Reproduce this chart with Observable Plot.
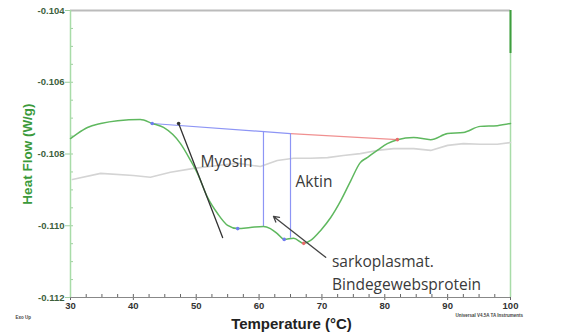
<!DOCTYPE html>
<html>
<head>
<meta charset="utf-8">
<script src="https://cdn.jsdelivr.net/npm/d3@7"></script>
<script src="https://cdn.jsdelivr.net/npm/@observablehq/plot@0.6"></script>
<style>
  html, body { margin: 0; padding: 0; background: #fff; }
  #chart svg { display: block; }
</style>
</head>
<body>
<div id="chart"></div>
<script>
// Heat flow curve (green)
const heatT = [30, 31.1, 32.7, 34.8, 37.5, 41.1, 43.0, 44.8, 47.5, 49.1, 50.2, 51.8, 53.4, 55.0, 56.6, 58.6, 60.7, 61.8, 62.9, 64.0, 65.5, 67.1, 68.2, 69.8, 71.4, 73.0, 74.6, 76.1, 77.2, 78.8, 80.4, 82.0, 84.6, 87.3, 90.0, 92.5, 95.2, 97.9, 100];
const heatV = [-0.10757, -0.10743, -0.10726, -0.10715, -0.10707, -0.10704, -0.10715, -0.10726, -0.10771, -0.10818, -0.10854, -0.10921, -0.10966, -0.10999, -0.11008, -0.11005, -0.11002, -0.11008, -0.11022, -0.11038, -0.11035, -0.11049, -0.11041, -0.11013, -0.10977, -0.10930, -0.10874, -0.10824, -0.10810, -0.10790, -0.10771, -0.10760, -0.10754, -0.10760, -0.10743, -0.10740, -0.10723, -0.10721, -0.10715];
// Reference curve (gray)
const refT = [30.3, 34.8, 40.0, 42.7, 45.9, 49.6, 53.4, 56.6, 60.2, 62.9, 65.5, 68.2, 70.9, 73.4, 76.1, 78.8, 81.4, 84.6, 87.3, 90.0, 92.5, 95.2, 97.9, 100];
const refV = [-0.10871, -0.10854, -0.10860, -0.10865, -0.10851, -0.10840, -0.10832, -0.10826, -0.10835, -0.10818, -0.10812, -0.10812, -0.10810, -0.10804, -0.10799, -0.10790, -0.10785, -0.10785, -0.10790, -0.10776, -0.10771, -0.10773, -0.10773, -0.10768];
// Baselines
const blueT = [43.0, 65.0];
const blueV = [-0.10715, -0.10743];
const redT = [65.0, 82.0];
const redV = [-0.10743, -0.10760];
const tangentT = [47.2, 54.2];
const tangentV = [-0.10715, -0.11033];
// Partition verticals
const splitT = [60.7, 65.0];
const splitTop = [-0.10737, -0.10743];
const splitBottom = [-0.11002, -0.11035];
// Markers on curve
const markT = [43.0, 56.6, 64.0, 67.1, 82.0, 47.2];
const markV = [-0.10715, -0.11008, -0.11038, -0.11049, -0.10760, -0.10715];
const markC = ["blue", "blue", "blue", "red", "red", "black"];
// Annotations
const labelNames = ["Myosin", "Aktin", "sarkoplasmat.", "Bindegewebsprotein"];
const labelT = [50.7, 65.8, 71.6, 71.6];
const labelV = [-0.10821, -0.10877, -0.11102, -0.11166];
const arrowFrom = [70.6, -0.11088];
const arrowTo = [62.3, -0.10974];
// Axis ticks
const yTicks = [-0.112, -0.110, -0.108, -0.106, -0.104];
const xTicks = [30, 40, 50, 60, 70, 80, 90, 100];
const yMinor = d3.range(-0.112, -0.10399, 0.0005);
const xMinor = d3.range(30, 100.01, 2.5);

const heat = heatT.map((t, i) => ({t, v: heatV[i]}));
const ref = refT.map((t, i) => ({t, v: refV[i]}));
const blue = blueT.map((t, i) => ({t, v: blueV[i]}));
const red = redT.map((t, i) => ({t, v: redV[i]}));
const tangent = tangentT.map((t, i) => ({t, v: tangentV[i]}));
const splits = splitT.map((t, i) => ({t, y1: splitTop[i], y2: splitBottom[i]}));
const marks = markT.map((t, i) => ({t, v: markV[i], c: markC[i]}));
const labels = labelNames.map((n, i) => ({n, t: labelT[i], v: labelV[i]}));
const colorMap = {blue: "#6f7cf0", red: "#e86a6a", black: "#333"};

const chart = Plot.plot({
  width: 562,
  height: 334,
  marginLeft: 70,
  marginRight: 52,
  marginTop: 10,
  marginBottom: 37,
  style: {fontFamily: "'Liberation Sans', Arial, sans-serif", background: "#fff"},
  x: {type: "linear", domain: [30, 100]},
  y: {type: "linear", domain: [-0.112, -0.104]},
  marks: [
    // minor ticks
    Plot.axisY({ticks: yMinor, tickSize: -3, stroke: "#9fcf9f", text: null, label: null}),
    Plot.axisX({ticks: xMinor, tickSize: -3, stroke: "#666", text: null, label: null}),
    // major axes
    Plot.axisY({ticks: yTicks, tickFormat: d => d.toFixed(3), tickSize: 5, tickPadding: 1, stroke: "#9fcf9f",
      fill: "#3d5f3d", fontSize: 9.5, fontWeight: "bold", label: null}),
    Plot.axisX({ticks: xTicks, tickFormat: d => String(d), tickSize: 3, tickPadding: 2, stroke: "#666",
      fill: "#333", fontSize: 9.5, fontWeight: "bold", label: null}),
    // frame lines
    Plot.ruleY([-0.104], {stroke: "#bbb", strokeWidth: 2}),
    Plot.ruleY([-0.112], {stroke: "#888", strokeWidth: 1}),
    Plot.ruleX([30], {stroke: "#a8dca8", strokeWidth: 1.5}),
    Plot.ruleX([100], {stroke: "#a8dca8", strokeWidth: 1.5}),
    Plot.ruleX([100], {y1: -0.104, y2: -0.1052, stroke: "#3e9e3e", strokeWidth: 2}),
    // curves
    Plot.line(ref, {x: "t", y: "v", stroke: "#d4d4d4", strokeWidth: 1.6}),
    Plot.line(blue, {x: "t", y: "v", stroke: "#8d95f5", strokeWidth: 1.2}),
    Plot.line(red, {x: "t", y: "v", stroke: "#f09090", strokeWidth: 1.2}),
    Plot.ruleX(splits, {x: "t", y1: "y1", y2: "y2", stroke: "#8d95f5", strokeWidth: 1.2}),
    Plot.line(heat, {x: "t", y: "v", stroke: "#5fb85f", strokeWidth: 1.5, curve: "monotone-x"}),
    Plot.line(tangent, {x: "t", y: "v", stroke: "#333", strokeWidth: 1.3}),
    Plot.dot(marks, {x: "t", y: "v", r: 1.8, fill: d => colorMap[d.c], stroke: "none"}),
    // arrow
    Plot.arrow([0], {x1: () => arrowFrom[0], y1: () => arrowFrom[1], x2: () => arrowTo[0], y2: () => arrowTo[1],
      stroke: "#444", strokeWidth: 1.3, headLength: 7}),
    // annotations
    Plot.text(labels, {x: "t", y: "v", text: "n", textAnchor: "start", fontSize: 15.5,
      fontFamily: "'Open Sans', sans-serif", fill: "#3a3a3a", style: "letter-spacing:0.4px"}),
    // axis titles
    Plot.text(["Heat Flow (W/g)"], {frameAnchor: "left", textAnchor: "middle", dx: -43, dy: 0, rotate: -90,
      fontSize: 13.5, fontWeight: "bold", fill: "#3b9a3b"}),
    Plot.text(["Temperature (°C)"], {frameAnchor: "bottom", dx: 1, dy: 31, fontSize: 15,
      fontWeight: "bold", fill: "#222"}),
    Plot.text(["Exo Up"], {frameAnchor: "bottom-left", dx: -55, dy: 21, fontSize: 4.5, fontWeight: "bold",
      fill: "#444", textAnchor: "start"}),
    Plot.text(["Universal V4.5A TA Instruments"], {frameAnchor: "bottom-right", dx: -55, dy: 19, fontSize: 4.5,
      fontWeight: "bold", fill: "#444", textAnchor: "start"})
  ]
});
document.getElementById("chart").appendChild(chart);
</script>
</body>
</html>
